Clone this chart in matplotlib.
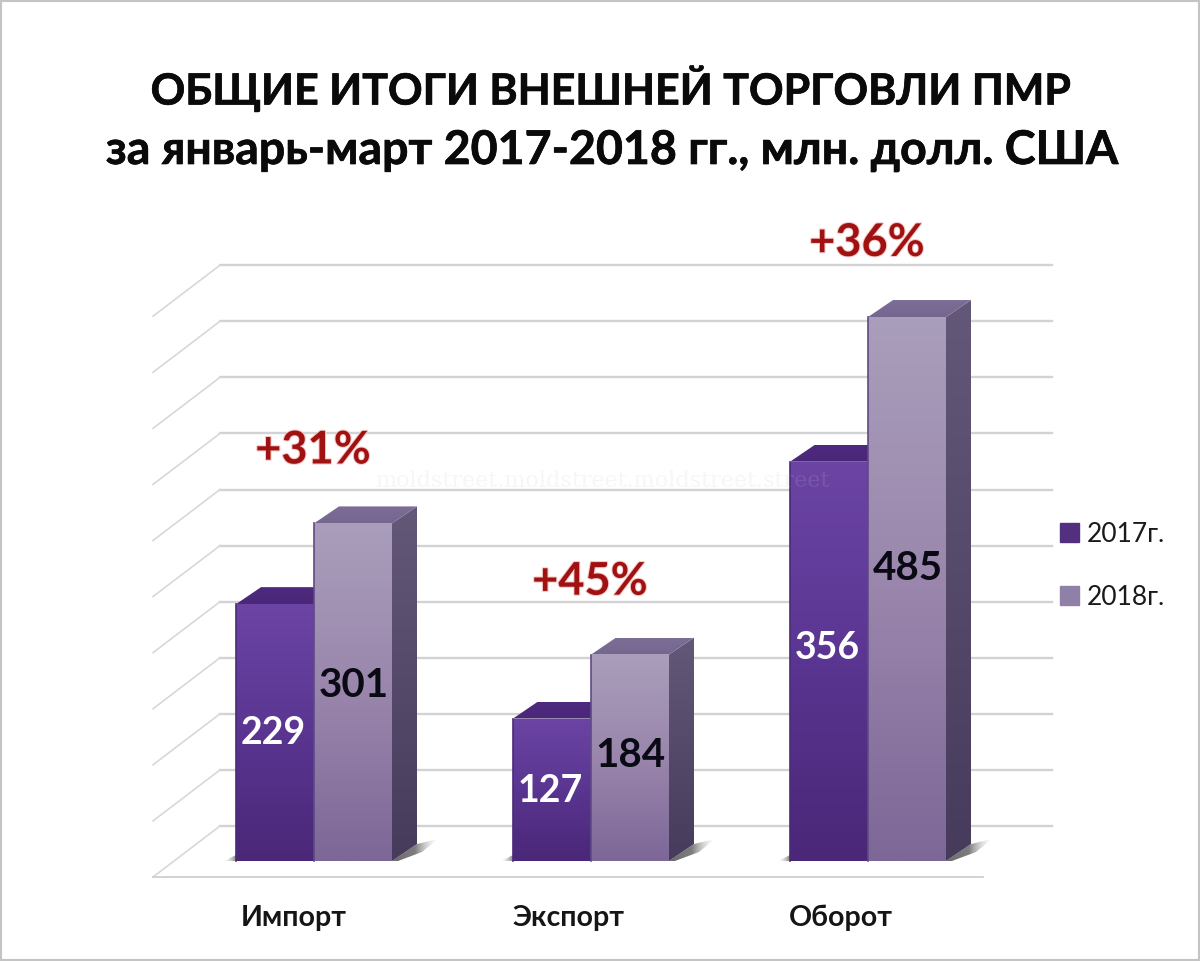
import matplotlib
matplotlib.use('Agg')
import matplotlib.pyplot as plt
import matplotlib.patheffects as pe
import numpy as np
from matplotlib.colors import LinearSegmentedColormap
from matplotlib.patches import Patch, Polygon, Rectangle

plt.rcParams['font.family'] = ['Lato', 'Open Sans', 'DejaVu Sans']

categories = ['Импорт', 'Экспорт', 'Оборот']
values_2017 = [229, 127, 356]
values_2018 = [301, 184, 485]
growth = ['+31%', '+45%', '+36%']
series_names = ['2017г.', '2018г.']
grid_values = np.arange(0, 501, 50)

# one category step = 277 px, one unit of value = 1.1216 px
PX_X = 1 / 277
PX_Y = 1 / 1.1216
width = 78 * PX_X
depth_x = 25 * PX_X
depth_y = 17 * PX_Y

fig = plt.figure(figsize=(12, 9.61), dpi=100)
ax = fig.add_axes([0, 0, 1, 1])
ax.axis('off')


def gradient(points, colors, zorder, horizontal=False):
    """Fill a polygon with a top-to-bottom (or left-to-right) gradient."""
    pts = np.array(points)
    cmap = LinearSegmentedColormap.from_list('g', colors)
    ramp = np.linspace(0, 1, 256)
    ramp = ramp[None, :] if horizontal else ramp[:, None]
    ext = (pts[:, 0].min(), pts[:, 0].max(), pts[:, 1].min(), pts[:, 1].max())
    im = ax.imshow(ramp, cmap=cmap, extent=ext, aspect='auto', zorder=zorder,
                   interpolation='bilinear')
    poly = Polygon(points, closed=True, transform=ax.transData)
    im.set_clip_path(poly)


def bar3d(x, value, front, side, top, edge, zorder):
    right = x + width
    gradient([(x, 0), (right, 0), (right, value), (x, value)], front, zorder)
    gradient([(right, 0), (right + depth_x, depth_y), (right + depth_x, value + depth_y), (right, value)],
             side, zorder)
    gradient([(x, value), (right, value), (right + depth_x, value + depth_y), (x + depth_x, value + depth_y)],
             top, zorder)
    ax.plot([x, x], [0, value], color=edge, lw=1.2, zorder=zorder + 0.1)


# back wall, left wall, floor
wall_left = -94 * PX_X
wall_right = 738 * PX_X
back_y = 35 * PX_Y
side_x = -161 * PX_X
side_y = -16 * PX_Y
for v in grid_values:
    ax.plot([wall_left, wall_right], [v + back_y, v + back_y], color='#d3d3d3', lw=1.7, zorder=1)
    ax.plot([side_x, wall_left], [v + side_y, v + back_y], color='#d8d8d8', lw=1.2, zorder=1)
ax.plot([side_x, 669 * PX_X], [side_y, side_y], color='#cfcfcf', lw=1.3, zorder=1)

for i in range(len(categories)):
    left = i - width
    right = i + width
    # floor shadows
    gradient([(right, 0), (right + depth_x, depth_y), (right + 46 * PX_X, depth_y + 5 * PX_Y),
              (right + 30 * PX_X, depth_y - 8 * PX_Y), (right + 6 * PX_X, 0)],
             [(0.35, 0.35, 0.35, 0.9), (0.4, 0.4, 0.4, 0.85), (0.8, 0.8, 0.8, 0.0)], 2, horizontal=True)
    gradient([(left, 0), (left, 6 * PX_Y), (left - 12 * PX_X, 0)],
             [(0.8, 0.8, 0.8, 0.0), (0.4, 0.4, 0.4, 0.8)], 2, horizontal=True)

    bar3d(left, values_2017[i],
          ['#6c45a4', '#5a3591', '#4a2777'],
          ['#4a2777', '#3a1d60'],
          ['#4d2a80', '#4a2777'], '#4a2b78', 3)
    bar3d(i, values_2018[i],
          ['#a99ebb', '#9a86ac', '#7c6797'],
          ['#635878', '#473b5c'],
          ['#7d6e97', '#756690'], '#5f4a86', 4)

# labels inside bars
label_2017 = [114.5, 62.5, 189.5]
label_2018 = [156.5, 94.5, 260.5]
for i in range(len(categories)):
    ax.text(i - width / 2 - 2 * PX_X, label_2017[i], str(values_2017[i]), color='white', fontsize=27,
            fontweight='bold', ha='center', va='center', zorder=6)
    ax.text(i + width / 2 + 0.5 * PX_X, label_2018[i], str(values_2018[i]), color='#0a0a14', fontsize=29,
            fontweight='bold', ha='center', va='center', zorder=6)

# growth above each group
growth_y = [366, 249, 551]
glow = [pe.withStroke(linewidth=1.5, foreground='#f5c8c8')]
for i, g in enumerate(growth):
    ax.text(i - 1 * PX_X, growth_y[i], g, color='#a01212', fontsize=32.5, fontweight='bold',
            ha='center', va='center', zorder=6, path_effects=glow)

# category names
cat_x = [-20 * PX_X, -22 * PX_X, -27 * PX_X]
for i, c in enumerate(categories):
    ax.text(i + cat_x[i], -50.5, c, color='#151515', fontsize=20.5, fontweight='bold',
            ha='center', va='center', zorder=6)

# faint watermark
ax.text((602 - 314) / 277, 339, 'moldstreet.moldstreet.moldstreet.street', family='DejaVu Serif', fontsize=16,
        color='#c8c8c8', alpha=0.15, ha='center', va='center', zorder=7)

ax.set_xlim(-314 / 277, (1200 - 314) / 277)
ax.set_ylim(-100 * PX_Y, 861 * PX_Y)

heavy = [pe.withStroke(linewidth=0.5, foreground='#0a0a0a')]
fig.text(611 / 1200, 1 - 88 / 961, 'ОБЩИЕ ИТОГИ ВНЕШНЕЙ ТОРГОВЛИ ПМР', color='#0a0a0a', fontsize=30.9,
         fontweight='bold', ha='center', va='center', path_effects=heavy)
fig.text(611.5 / 1200, 1 - 150 / 961, 'за январь-март 2017-2018 гг., млн. долл. США', color='#0a0a0a', fontsize=33.5,
         fontweight='bold', ha='center', va='center', path_effects=heavy)

handles = [Patch(facecolor='#52307f', edgecolor='#52307f', label=series_names[0]),
           Patch(facecolor='#8f80a8', edgecolor='#8f80a8', label=series_names[1])]
ax.legend(handles=handles, loc='center left', bbox_to_anchor=(1060 / 1200, 1 - 566 / 961), frameon=False,
          fontsize=19, handlelength=0.72, handleheight=0.72, handletextpad=0.3, labelspacing=1.44,
          labelcolor='#1a1a1a', borderpad=0, borderaxespad=0)

# thin picture frame
fig.add_artist(Rectangle((0, 0), 1, 1, transform=fig.transFigure, fill=False, edgecolor='#c4c4c4', lw=3))

fig.savefig('out.png', dpi=100, facecolor='white')
